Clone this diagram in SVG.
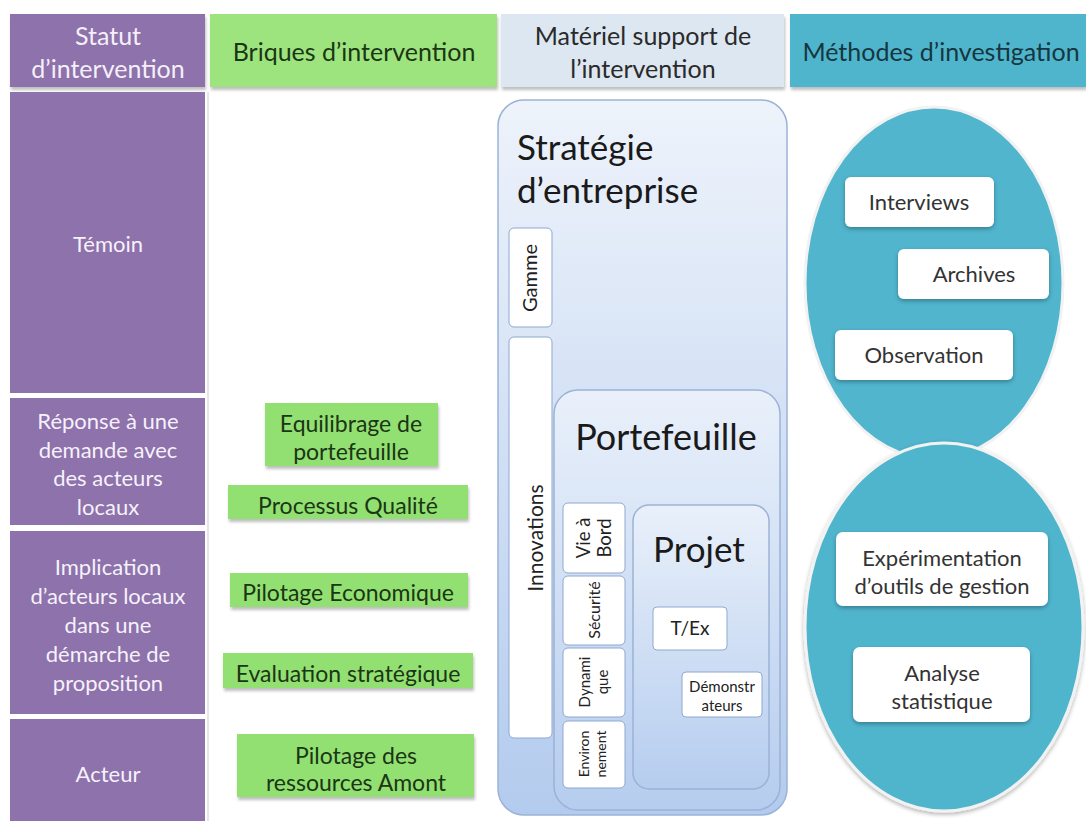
<svg xmlns="http://www.w3.org/2000/svg" width="1086" height="821" viewBox="0 0 1086 821">
<defs>
<linearGradient id="gBlue" x1="0" y1="0" x2="0" y2="1">
<stop offset="0" stop-color="#eef3fb"/><stop offset="1" stop-color="#b3cbee"/>
</linearGradient>
<linearGradient id="gBlue2" x1="0" y1="0" x2="0" y2="1">
<stop offset="0" stop-color="#e9f0fa"/><stop offset="1" stop-color="#b6cdef"/>
</linearGradient>
<filter id="sh" x="-10%" y="-10%" width="130%" height="140%">
<feDropShadow dx="1" dy="3" stdDeviation="1.5" flood-color="#000" flood-opacity="0.25"/>
</filter>
<filter id="sh2" x="-10%" y="-10%" width="130%" height="140%">
<feDropShadow dx="0" dy="2" stdDeviation="2" flood-color="#000" flood-opacity="0.3"/>
</filter>
</defs>
<style>
text{font-family:Lato,"Open Sans","Liberation Sans",sans-serif;text-anchor:middle}
.hdr{font-size:25px}
.pur{fill:#8d72ab}
.wt{fill:#f6f1fa;font-size:22px}
.grn{fill:#92e072;filter:url(#sh)}
.gt{fill:#1b3614;font-size:23px}
.wb{fill:#ffffff;stroke:#8fa9cf;stroke-width:1}
.bt{fill:#222;font-size:20px}
.st{fill:#222;font-size:15px}
.ct{fill:#333;font-size:22px}
.rb{fill:#ffffff;filter:url(#sh2)}
.big{fill:#1a1a1a}
</style>
<rect width="1086" height="821" fill="#ffffff"/>

<g id="headers" filter="url(#sh)">
<rect x="10" y="14" width="195" height="73" fill="#8d72ab"/>
<rect x="210" y="14" width="287" height="73" fill="#9de47f"/>
<rect x="501" y="14" width="283" height="73" fill="#dde7f1"/>
<rect x="790" y="14" width="296" height="73" fill="#50b5cd"/>
</g>
<g id="header-text">
<text class="hdr" x="108" y="45" fill="#f4eff8">Statut</text>
<text class="hdr" x="108" y="78" fill="#f4eff8">d’intervention</text>
<text class="hdr" x="354" y="61" fill="#1b3614">Briques d’intervention</text>
<text class="hdr" x="643" y="45" fill="#2a2a2a">Matériel support de</text>
<text class="hdr" x="643" y="78" fill="#2a2a2a">l’intervention</text>
<text class="hdr" x="941" y="61" fill="#163640">Méthodes d’investigation</text>
</g>

<line x1="208" y1="92" x2="208" y2="821" stroke="#e6e6e6" stroke-width="2"/>

<g id="statut-temoin">
<rect class="pur" x="10" y="92" width="195" height="301"/>
<text class="wt" x="108" y="252">Témoin</text>
</g>
<g id="statut-reponse">
<rect class="pur" x="10" y="398" width="195" height="127"/>
<text class="wt" x="108" y="429">Réponse à une</text>
<text class="wt" x="108" y="458">demande avec</text>
<text class="wt" x="108" y="486">des acteurs</text>
<text class="wt" x="108" y="515">locaux</text>
</g>
<g id="statut-implication">
<rect class="pur" x="10" y="531" width="195" height="183"/>
<text class="wt" x="108" y="575">Implication</text>
<text class="wt" x="108" y="604">d’acteurs locaux</text>
<text class="wt" x="108" y="633">dans une</text>
<text class="wt" x="108" y="662">démarche de</text>
<text class="wt" x="108" y="691">proposition</text>
</g>
<g id="statut-acteur">
<rect class="pur" x="10" y="719" width="195" height="102"/>
<text class="wt" x="108" y="782">Acteur</text>
</g>

<g id="brique-equilibrage">
<rect class="grn" x="265" y="403" width="173" height="63"/>
<text class="gt" x="351" y="432">Equilibrage de</text>
<text class="gt" x="351" y="460">portefeuille</text>
</g>
<g id="brique-qualite">
<rect class="grn" x="228" y="485" width="240" height="34"/>
<text class="gt" x="348" y="514">Processus Qualité</text>
</g>
<g id="brique-pilotage-eco">
<rect class="grn" x="230" y="573" width="238" height="34"/>
<text class="gt" x="348" y="601">Pilotage Economique</text>
</g>
<g id="brique-evaluation">
<rect class="grn" x="223" y="653" width="250" height="35"/>
<text class="gt" x="348" y="682">Evaluation stratégique</text>
</g>
<g id="brique-pilotage-amont">
<rect class="grn" x="237" y="734" width="237" height="63"/>
<text class="gt" x="356" y="764">Pilotage des</text>
<text class="gt" x="356" y="791">ressources Amont</text>
</g>

<g id="strategie">
<rect x="498" y="100" width="289" height="715" rx="26" fill="url(#gBlue)" stroke="#9cb2d6" stroke-width="1.5"/>
<text x="517" y="160" style="text-anchor:start;font-size:35px" class="big">Stratégie</text>
<text x="517" y="203" style="text-anchor:start;font-size:35px" class="big">d’entreprise</text>
</g>
<g id="gamme">
<rect class="wb" x="509" y="228" width="43" height="99" rx="5"/>
<text class="bt" transform="translate(537,278) rotate(-90)">Gamme</text>
</g>
<g id="innovations">
<rect class="wb" x="509" y="337" width="43" height="401" rx="5"/>
<text class="bt" style="font-size:21px" transform="translate(543,538) rotate(-90)">Innovations</text>
</g>
<g id="portefeuille">
<rect x="554" y="390" width="226" height="420" rx="24" fill="url(#gBlue2)" stroke="#9cb2d6" stroke-width="1.5"/>
<text x="666" y="450" class="big" style="font-size:36px">Portefeuille</text>
</g>
<g id="vie-a-bord">
<rect class="wb" x="563" y="503" width="62" height="70" rx="5"/>
<text class="bt" style="font-size:18.5px" transform="translate(590,538) rotate(-90)">Vie à</text>
<text class="bt" style="font-size:18.5px" transform="translate(611,538) rotate(-90)">Bord</text>
</g>
<g id="securite">
<rect class="wb" x="563" y="576" width="62" height="69" rx="5"/>
<text class="st" style="font-size:16px" transform="translate(600,610) rotate(-90)">Sécurité</text>
</g>
<g id="dynamique">
<rect class="wb" x="563" y="648" width="62" height="69" rx="5"/>
<text class="st" transform="translate(590,682) rotate(-90)">Dynami</text>
<text class="st" transform="translate(608,682) rotate(-90)">que</text>
</g>
<g id="environnement">
<rect class="wb" x="563" y="721" width="62" height="67" rx="5"/>
<text class="st" style="font-size:14px" transform="translate(589,754) rotate(-90)">Environ</text>
<text class="st" style="font-size:14px" transform="translate(606,754) rotate(-90)">nement</text>
</g>
<g id="projet">
<rect x="633" y="505" width="136" height="284" rx="16" fill="url(#gBlue2)" stroke="#9cb2d6" stroke-width="1.5"/>
<text x="699" y="562" class="big" style="font-size:35px">Projet</text>
</g>
<g id="tex">
<rect class="wb" x="653" y="607" width="74" height="43" rx="4"/>
<text class="bt" style="font-size:19px" x="690" y="635">T/Ex</text>
</g>
<g id="demonstrateurs">
<rect class="wb" x="682" y="672" width="80" height="45" rx="4"/>
<text class="st" x="722" y="692">Démonstr</text>
<text class="st" x="722" y="711">ateurs</text>
</g>

<g id="methodes-qualitatives">
<ellipse cx="934" cy="283" rx="129" ry="176" fill="#50b5cd" stroke="#f2f2f2" stroke-width="3"/>
</g>
<g id="interviews">
<rect class="rb" x="845" y="177" width="149" height="50" rx="6"/>
<text class="ct" x="919" y="210">Interviews</text>
</g>
<g id="archives">
<rect class="rb" x="898" y="249" width="151" height="50" rx="6"/>
<text class="ct" x="974" y="282">Archives</text>
</g>
<g id="observation">
<rect class="rb" x="835" y="330" width="178" height="50" rx="6"/>
<text class="ct" x="924" y="363">Observation</text>
</g>
<g id="methodes-quantitatives">
<ellipse cx="944" cy="627" rx="139" ry="184" fill="#50b5cd" stroke="#f2f2f2" stroke-width="3" filter="url(#sh2)"/>
</g>
<g id="experimentation">
<rect class="rb" x="836" y="532" width="212" height="74" rx="7"/>
<text class="ct" x="942" y="566">Expérimentation</text>
<text class="ct" x="942" y="594">d’outils de gestion</text>
</g>
<g id="analyse">
<rect class="rb" x="853" y="647" width="177" height="75" rx="7"/>
<text class="ct" x="942" y="681">Analyse</text>
<text class="ct" x="942" y="709">statistique</text>
</g>
<g id="connectors"></g>
</svg>
